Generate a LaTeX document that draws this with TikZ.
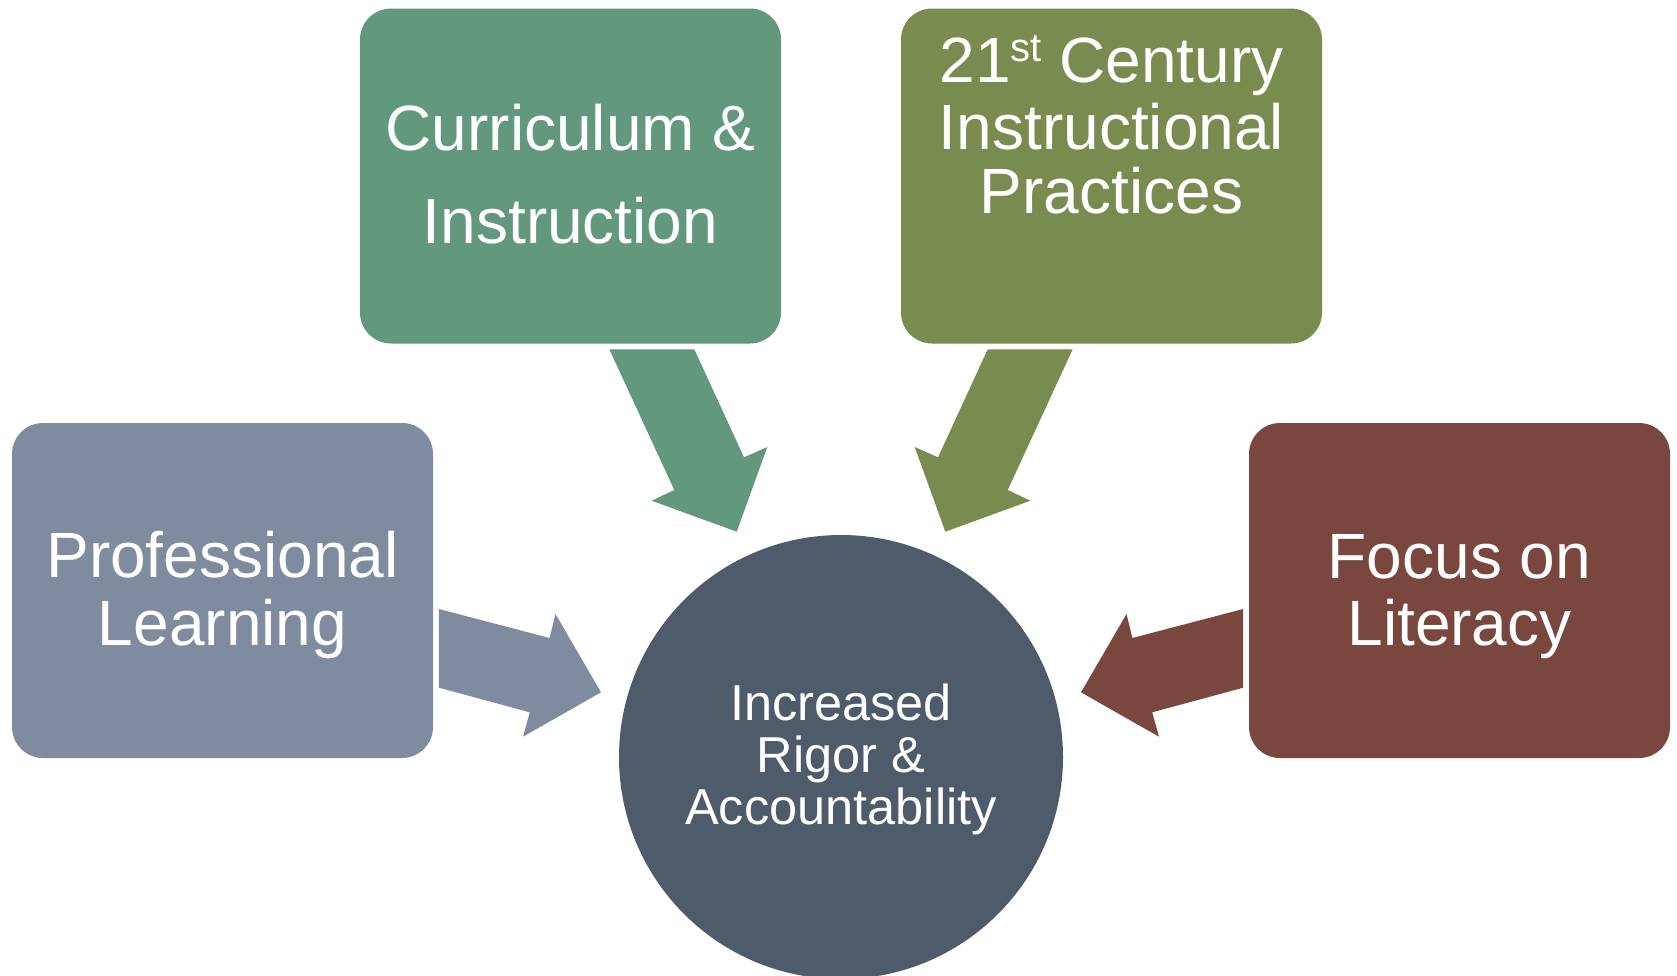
\documentclass[tikz,border=0pt]{standalone}
\usepackage{fontspec}
\setmainfont{Liberation Sans}
\definecolor{plc}{RGB}{127,140,159}
\definecolor{cic}{RGB}{98,152,125}
\definecolor{cxx}{RGB}{122,139,80}
\definecolor{foc}{RGB}{121,71,62}
\definecolor{cir}{RGB}{78,91,107}
\begin{document}
\begin{tikzpicture}[x=1pt,y=-1pt,
  box/.style={rectangle, rounded corners=31pt, minimum width=421pt, minimum height=335pt, inner sep=0pt},
  big/.style={text=white, inner sep=0pt, anchor=base, font=\fontsize{64}{66}\selectfont},
  small/.style={text=white, inner sep=0pt, anchor=base, font=\fontsize{50.5}{52}\selectfont},
  blockarrow/.style={draw=none}]
\fill[white] (0,0) rectangle (1677,975);
\useasboundingbox (0,0) rectangle (1677,975);

% boxes
\node[box, fill=cic] (cur) at (570.5,176) {};
\node[box, fill=cxx] (cen) at (1111.5,176) {};
\node[box, fill=plc] (pl) at (222.5,590.5) {};
\node[box, fill=foc] (fl) at (1459.5,590.5) {};
\node[circle, fill=cir, minimum size=444pt, inner sep=0pt] (rig) at (841,757) {};

% block arrows
\fill[blockarrow, plc] (438.9,609) -- (549.6,638) -- (555.5,614) -- (601,692.3) -- (523,736.7) -- (529.8,712.3) -- (438.9,687.7) -- cycle;
\fill[blockarrow, foc] (1243.1,609) -- (1132.4,638) -- (1126.5,614) -- (1081,692.3) -- (1159,736.7) -- (1152.2,712.3) -- (1243.1,687.7) -- cycle;
\fill[blockarrow, cic] (609.3,349.3) -- (694.3,349.3) -- (744,457.3) -- (767.3,447) -- (736.7,531.7) -- (651.7,500.7) -- (674.3,490) -- cycle;
\fill[blockarrow, cxx] (1072.7,349.3) -- (987.7,349.3) -- (938,457.3) -- (914.7,447) -- (945.3,531.7) -- (1030.3,500.7) -- (1007.7,490) -- cycle;

% texts
\node[big] (cur1) at (570.5,150.8) {Curriculum \&};
\node[big] (cur2) at (570.5,243.8) {Instruction};
\node[big] (cen1) at (1111.5,82.4) {21\raisebox{21pt}{\fontsize{40}{40}\selectfont st} Century};
\node[big] (cen2) at (1111.5,149.7) {Instructional};
\node[big] (cen3) at (1111.5,213.9) {Practices};
\node[big] (pl1) at (222.5,577.5) {Professional};
\node[big] (pl2) at (222.5,645) {Learning};
\node[big] (fl1) at (1459.5,578.6) {Focus on};
\node[big] (fl2) at (1459.5,645) {Literacy};
\node[small] (rig1) at (841,720.8) {Increased};
\node[small] (rig2) at (841,772.2) {Rigor \&};
\node[small] (rig3) at (841,824.6) {Accountability};
\end{tikzpicture}
\end{document}
